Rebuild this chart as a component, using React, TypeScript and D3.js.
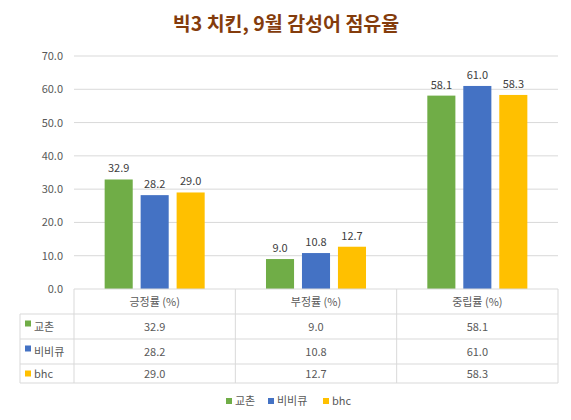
import React from "react";
import * as d3 from "d3";

const categories = ["긍정률 (%)", "부정률 (%)", "중립률 (%)"];
const seriesNames = ["교촌", "비비큐", "bhc"];
const kyochon = [32.9, 9.0, 58.1];
const bbq = [28.2, 10.8, 61.0];
const bhc = [29.0, 12.7, 58.3];
const yTicks = [0, 10, 20, 30, 40, 50, 60, 70];
const colors = ["#70AD47", "#4472C4", "#FFC000"];

const W = 571;
const H = 420;
const FONT = "'Noto Sans CJK KR', 'Noto Sans', sans-serif";

export default function App() {
  const series = [kyochon, bbq, bhc];
  const left = 74;
  const right = 558;
  const top = 56;
  const bottom = 289;
  const x = d3.scaleBand<string>().domain(categories).range([left, right]).paddingInner(0).paddingOuter(0);
  const y = d3.scaleLinear().domain([0, 70]).range([bottom, top]);
  const bw = x.bandwidth();
  const inner = d3
    .scaleBand<string>()
    .domain(seriesNames)
    .range([bw * 0.19, bw * 0.81])
    .paddingInner(0.22)
    .paddingOuter(0);

  const rowY = [289, 314, 339, 364, 383];
  const tableLeft = 20;
  const gridColor = "#D9D9D9";
  const textColor = "#595959";

  return (
    <svg width={W} height={H} style={{ position: "absolute", left: 0, top: 0 }} fontFamily={FONT}>
      <rect x={0} y={0} width={W} height={H} fill="#fff" />
      <text x={286} y={31} textAnchor="middle" fontSize={19.5} fontWeight="bold" fill="#843C0C">
        빅3 치킨, 9월 감성어 점유율
      </text>
      {yTicks.map((t) => (
        <g key={t}>
          {t > 0 && <line x1={left} x2={right} y1={y(t)} y2={y(t)} stroke={gridColor} strokeWidth={1} />}
          <text x={63} y={y(t) + 4} textAnchor="end" fontSize={11} fill={textColor}>
            {t.toFixed(1)}
          </text>
        </g>
      ))}
      {categories.map((c, ci) => (
        <g key={c}>
          {series.map((s, si) => {
            const bx = (x(c) as number) + (inner(seriesNames[si]) as number);
            return (
              <g key={si}>
                <rect x={bx} y={y(s[ci])} width={inner.bandwidth()} height={bottom - y(s[ci])} fill={colors[si]} />
                <text
                  x={bx + inner.bandwidth() / 2}
                  y={y(s[ci]) - 7}
                  textAnchor="middle"
                  fontSize={11}
                  fill="#404040"
                >
                  {s[ci].toFixed(1)}
                </text>
              </g>
            );
          })}
        </g>
      ))}
      {/* data table */}
      <g stroke={gridColor} strokeWidth={1} fill="none">
        <line x1={left} x2={right} y1={rowY[0]} y2={rowY[0]} />
        {rowY.slice(1).map((ry) => (
          <line key={ry} x1={tableLeft} x2={right} y1={ry} y2={ry} />
        ))}
        <line x1={tableLeft} x2={tableLeft} y1={rowY[1]} y2={rowY[4]} />
        {categories.map((c) => (
          <line key={c} x1={x(c) as number} x2={x(c) as number} y1={rowY[0]} y2={rowY[4]} />
        ))}
        <line x1={right} x2={right} y1={rowY[0]} y2={rowY[4]} />
      </g>
      {categories.map((c) => (
        <text
          key={c}
          x={(x(c) as number) + bw / 2}
          y={(rowY[0] + rowY[1]) / 2 + 4}
          textAnchor="middle"
          fontSize={11}
          fill={textColor}
        >
          {c}
        </text>
      ))}
      {series.map((s, si) => {
        const cy = (rowY[si + 1] + rowY[si + 2]) / 2;
        return (
          <g key={si}>
            <rect x={tableLeft + 5} y={cy - (si === 2 ? 3 : 6)} width={6} height={si === 2 ? 6 : 6} fill={colors[si]} />
            <text x={tableLeft + 14} y={cy + 4} fontSize={11} fill={textColor}>
              {seriesNames[si]}
            </text>
            {categories.map((c, ci) => (
              <text
                key={c}
                x={(x(c) as number) + bw / 2}
                y={cy + 4}
                textAnchor="middle"
                fontSize={11}
                fill={textColor}
              >
                {s[ci].toFixed(1)}
              </text>
            ))}
          </g>
        );
      })}
      {/* legend */}
      {[226, 268, 323].map((lx, i) => (
        <g key={i}>
          <rect x={lx} y={398} width={6} height={6} fill={colors[i]} />
          <text x={lx + 9} y={405} fontSize={11} fill={textColor}>
            {seriesNames[i]}
          </text>
        </g>
      ))}
    </svg>
  );
}
